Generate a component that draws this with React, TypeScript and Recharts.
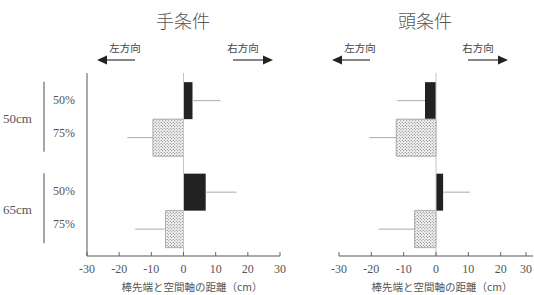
import React from "react";
import { BarChart, Bar, XAxis, YAxis, ErrorBar, ReferenceLine } from "recharts";

// distance conditions (rows) and angle conditions (bars in each row)
const categories = ["50cm", "65cm"];
const angleLabels = ["50%", "75%"];
const xTicks = [-30, -20, -10, 0, 10, 20, 30];

// 手条件
const handMean50 = [2.8, 6.9];
const handMean75 = [-9.5, -5.6];
const handSd50 = [8.7, 9.6];
const handSd75 = [8.0, 9.4];

// 頭条件
const headMean50 = [-3.4, 2.2];
const headMean75 = [-12.3, -6.6];
const headSd50 = [8.6, 8.3];
const headSd75 = [8.3, 11.2];

// error bar drawn only on the outer side of the bar
const oneSided = (m: number, s: number) => (m >= 0 ? [0, s] : [s, 0]);

const build = (m50: number[], m75: number[], s50: number[], s75: number[]) =>
  categories.map((dist, i) => ({
    dist,
    a50: m50[i],
    a75: m75[i],
    e50: oneSided(m50[i], s50[i]),
    e75: oneSided(m75[i], s75[i]),
  }));

const handData = build(handMean50, handMean75, handSd50, handSd75);
const headData = build(headMean50, headMean75, headSd50, headSd75);

const serif = "'Liberation Serif', 'DejaVu Serif', serif";
const jp = "'Noto Sans CJK JP', sans-serif";

const XTick = (props: any) => {
  const { x, y, payload } = props;
  return (
    <g>
      <line x1={x} x2={x} y1={y} y2={y - 4} stroke="#666" />
      <text x={x} y={y + 17} textAnchor="middle" fontFamily={serif} fontSize={12} fill="#555">
        {payload.value}
      </text>
    </g>
  );
};

const YTick = (props: any) => {
  const { x, y, payload } = props;
  return (
    <g fontFamily={serif} fill="#555">
      <text x={x - 84} y={y + 4} fontSize={13}>
        {payload.value}
      </text>
      <line x1={x - 43} x2={x - 43} y1={y - 37} y2={y + 33} stroke="#888" strokeWidth={1.5} />
      <text x={x - 34} y={y - 15} fontSize={12}>
        {angleLabels[0]}
      </text>
      <text x={x - 34} y={y + 18} fontSize={12}>
        {angleLabels[1]}
      </text>
    </g>
  );
};

function Panel({ data, width, margin, labels }: any) {
  return (
    <BarChart
      width={width}
      height={295}
      data={data}
      layout="vertical"
      margin={margin}
      barCategoryGap="10%"
      barGap={0}
    >
      <XAxis
        type="number"
        domain={[-30, 30]}
        ticks={xTicks}
        height={30}
        tickLine={false}
        tickSize={0}
        tickMargin={0}
        axisLine={{ stroke: "#555" }}
        tick={<XTick />}
      />
      <YAxis
        type="category"
        dataKey="dist"
        width={labels ? 87 : 0}
        tickLine={false}
        tickSize={0}
        tickMargin={0}
        axisLine={{ stroke: "#555" }}
        tick={labels ? <YTick /> : false}
      />
      <ReferenceLine x={0} stroke="#c4c4c4" />
      <Bar dataKey="a50" fill="#222" isAnimationActive={false}>
        <ErrorBar dataKey="e50" width={0} stroke="#aaa" strokeWidth={1} direction="x" />
      </Bar>
      <Bar dataKey="a75" fill="url(#dots)" stroke="#aaa" strokeWidth={1} isAnimationActive={false}>
        <ErrorBar dataKey="e75" width={0} stroke="#aaa" strokeWidth={1} direction="x" />
      </Bar>
    </BarChart>
  );
}

const abs = (left: number, top: number, w: number): React.CSSProperties => ({
  position: "absolute",
  left,
  top,
  width: w,
  textAlign: "center",
  whiteSpace: "nowrap",
});

export default function App() {
  return (
    <div style={{ position: "absolute", left: 0, top: 0, width: 534, height: 295, background: "#fff", overflow: "hidden" }}>
      <svg width={0} height={0} style={{ position: "absolute" }}>
        <defs>
          <pattern id="dots" width={3} height={3} patternUnits="userSpaceOnUse">
            <rect width={3} height={3} fill="#f6f6f6" />
            <circle cx={0.75} cy={0.75} r={0.6} fill="#666" />
            <circle cx={2.25} cy={2.25} r={0.6} fill="#666" />
          </pattern>
        </defs>
      </svg>

      <div style={{ position: "absolute", left: 0, top: 0 }}>
        <Panel data={handData} width={290} margin={{ top: 73, right: 10, bottom: 9, left: 0 }} labels />
      </div>
      <div style={{ position: "absolute", left: 250, top: 0 }}>
        <Panel data={headData} width={284} margin={{ top: 73, right: 1, bottom: 9, left: 89 }} labels={false} />
      </div>

      {/* titles */}
      <div style={{ ...abs(133, 7, 100), fontFamily: jp, fontSize: 18, fontWeight: 300, color: "#555" }}>手条件</div>
      <div style={{ ...abs(375, 7, 100), fontFamily: jp, fontSize: 18, fontWeight: 300, color: "#555" }}>頭条件</div>

      {/* direction labels */}
      <div style={{ ...abs(95, 40, 60), fontFamily: jp, fontSize: 10.5, color: "#444" }}>左方向</div>
      <div style={{ ...abs(213, 40, 60), fontFamily: jp, fontSize: 10.5, color: "#444" }}>右方向</div>
      <div style={{ ...abs(330, 40, 60), fontFamily: jp, fontSize: 10.5, color: "#444" }}>左方向</div>
      <div style={{ ...abs(448, 40, 60), fontFamily: jp, fontSize: 10.5, color: "#444" }}>右方向</div>

      <svg width={534} height={80} style={{ position: "absolute", left: 0, top: 0 }}>
        <g stroke="#333" strokeWidth={1.2}>
          <line x1={105} x2={135} y1={60} y2={60} />
          <line x1={233} x2={265} y1={60} y2={60} />
          <line x1={340} x2={370} y1={60} y2={60} />
          <line x1={468} x2={500} y1={60} y2={60} />
        </g>
        <g fill="#222">
          <polygon points="97,60 107,55.5 107,64.5" />
          <polygon points="273,60 263,55.5 263,64.5" />
          <polygon points="332,60 342,55.5 342,64.5" />
          <polygon points="508,60 498,55.5 498,64.5" />
        </g>
      </svg>

      {/* axis titles */}
      <div style={{ ...abs(112, 279, 160), fontFamily: jp, fontSize: 10.5, color: "#555" }}>棒先端と空間軸の距離（cm）</div>
      <div style={{ ...abs(362, 279, 160), fontFamily: jp, fontSize: 10.5, color: "#555" }}>棒先端と空間軸の距離（cm）</div>
    </div>
  );
}
